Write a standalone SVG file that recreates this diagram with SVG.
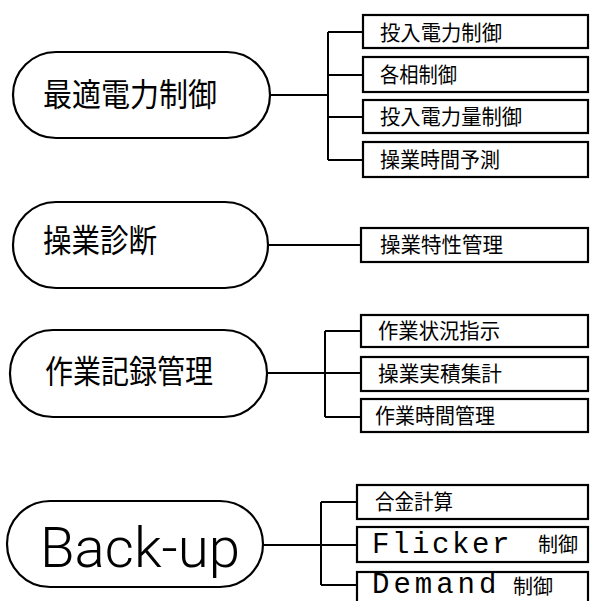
<svg xmlns="http://www.w3.org/2000/svg" width="590" height="601" viewBox="0 0 590 601">
<style>
.pill{fill:#fff;stroke:#000;stroke-width:2.2}
.box{fill:#fff;stroke:#000;stroke-width:2.2}
.conn{fill:none;stroke:#000;stroke-width:2}
.big{font-family:"Noto Sans CJK JP","Noto Sans CJK SC",sans-serif;font-size:32px;fill:#000;dominant-baseline:central}
.lbl{font-family:"Noto Sans CJK JP","Noto Sans CJK SC",sans-serif;font-size:21px;fill:#000;dominant-baseline:central}
.sm{font-family:"Noto Sans CJK JP","Noto Sans CJK SC",sans-serif;font-size:20px;letter-spacing:0;dominant-baseline:central}
.mono{font-family:"Liberation Mono",monospace;font-size:29px;fill:#000}
.bk{font-family:Roboto,"Liberation Sans",sans-serif;font-weight:300;font-size:56px;fill:#000}
</style>
<rect width="590" height="601" fill="#fff"/>
<g id="connectors">
<path class="conn" d="M270 95 H328 M328 32 V160 M328 32 H363 M328 75 H363 M328 117 H363 M328 160 H363"/>
<path class="conn" d="M268 245 H361"/>
<path class="conn" d="M267 373 H361 M325 331 V417 M325 331 H361 M325 417 H361"/>
<path class="conn" d="M263 545 H357 M321 502 V585 M321 502 H357 M321 585 H357"/>
</g>
<g id="n-saiteki">
<rect class="pill" x="13" y="52" width="257" height="86" rx="43"/>
<text class="big" x="43" y="92" textLength="174" lengthAdjust="spacingAndGlyphs">最適電力制御</text>
</g>
<g id="n-sogyo">
<rect class="pill" x="13" y="202" width="255" height="86" rx="43"/>
<text class="big" x="43" y="238" textLength="114" lengthAdjust="spacingAndGlyphs">操業診断</text>
</g>
<g id="n-sagyo">
<rect class="pill" x="10" y="330" width="257" height="87" rx="43"/>
<text class="big" x="45" y="369" textLength="168" lengthAdjust="spacingAndGlyphs">作業記録管理</text>
</g>
<g id="n-backup">
<rect class="pill" x="7" y="501" width="256" height="86" rx="43"/>
<text class="bk" x="40" y="567" textLength="200" lengthAdjust="spacingAndGlyphs">Back-up</text>
</g>
<g id="b1">
<rect class="box" x="363" y="15" width="225" height="33"/>
<text class="lbl" x="380" y="30.5" textLength="122" lengthAdjust="spacingAndGlyphs">投入電力制御</text>
</g>
<g id="b2">
<rect class="box" x="363" y="57" width="225" height="35"/>
<text class="lbl" x="380" y="73" textLength="77" lengthAdjust="spacingAndGlyphs">各相制御</text>
</g>
<g id="b3">
<rect class="box" x="363" y="100" width="225" height="33"/>
<text class="lbl" x="380" y="115" textLength="142" lengthAdjust="spacingAndGlyphs">投入電力量制御</text>
</g>
<g id="b4">
<rect class="box" x="363" y="142" width="225" height="35"/>
<text class="lbl" x="380" y="158" textLength="120" lengthAdjust="spacingAndGlyphs">操業時間予測</text>
</g>
<g id="b5">
<rect class="box" x="361" y="228" width="227" height="34"/>
<text class="lbl" x="380" y="243" textLength="123" lengthAdjust="spacingAndGlyphs">操業特性管理</text>
</g>
<g id="b6">
<rect class="box" x="361" y="315" width="227" height="32"/>
<text class="lbl" x="378" y="329" textLength="122" lengthAdjust="spacingAndGlyphs">作業状況指示</text>
</g>
<g id="b7">
<rect class="box" x="361" y="357" width="227" height="34"/>
<text class="lbl" x="378" y="372" textLength="124" lengthAdjust="spacingAndGlyphs">操業実積集計</text>
</g>
<g id="b8">
<rect class="box" x="361" y="399" width="227" height="33"/>
<text class="lbl" x="375" y="414" textLength="120" lengthAdjust="spacingAndGlyphs">作業時間管理</text>
</g>
<g id="b9">
<rect class="box" x="357" y="485" width="231" height="34"/>
<text class="lbl" x="375" y="500" textLength="78" lengthAdjust="spacingAndGlyphs">合金計算</text>
</g>
<g id="b10">
<rect class="box" x="357" y="527" width="231" height="35"/>
<text class="mono" x="372" y="553" letter-spacing="2.6">Flicker<tspan class="sm" x="538" y="543">制御</tspan></text>
</g>
<g id="b11">
<rect class="box" x="357" y="572" width="231" height="40"/>
<text class="mono" x="372" y="593" font-size="28" letter-spacing="4">Demand<tspan class="sm" x="513" y="585">制御</tspan></text>
</g>
</svg>
